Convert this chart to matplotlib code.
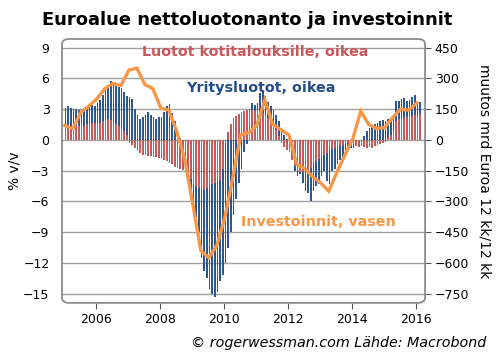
import numpy as np
import matplotlib
matplotlib.use("Agg")
import matplotlib.pyplot as plt
from matplotlib.patches import FancyBboxPatch

# monthly bars, Jan 2005 .. Feb 2016, mrd euro (right axis)
start_year = 2005
yritys = [155, 165, 155, 150, 150, 145, 150, 155, 160, 160, 170, 165,
          180, 195, 220, 245, 270, 285, 280, 265, 260, 255, 235, 215,
          210, 200, 150, 120, 100, 110, 120, 135, 120, 110, 100, 110,
          110, 135, 165, 175, 130, 90, 45, 10, -40, -110, -200, -275,
          -300, -375, -450, -575, -640, -675, -725, -750, -765, -740, -690, -660,
          -600, -525, -450, -365, -290, -210, -140, -60, -20, 150, 180, 170,
          180, 230, 235, 215, 185, 165, 145, 120, 90, 60, 25, 5,
          -50, -90, -150, -175, -165, -210, -250, -260, -300, -250, -225, -215,
          -175, -150, -200, -215, -150, -140, -120, -100, -85, -70, -50, -40,
          -40, -30, -20, -5, 20, 45, 60, 65, 75, 80, 90, 95,
          90, 100, 105, 110, 190, 190, 200, 205, 190, 195, 210, 220,
          180, 185]
kotitalous = [70, 70, 65, 65, 70, 70, 75, 70, 75, 75, 80, 80,
              75, 80, 90, 100, 102, 95, 85, 75, 68, 58, 45, 25,
              -15, -25, -40, -55, -65, -75, -75, -80, -80, -85, -85, -90,
              -95, -100, -105, -115, -120, -130, -135, -140, -145, -155, -165, -190,
              -215, -225, -235, -245, -245, -235, -225, -215, -210, -205, -195, -140,
              -15, 40, 75, 105, 115, 125, 135, 140, 145, 145, 145, 140,
              145, 140, 130, 120, 105, 90, 75, 50, 20, -15, -35, -50,
              -60, -100, -125, -145, -155, -155, -150, -145, -135, -120, -105, -95,
              -90, -75, -65, -55, -45, -40, -35, -30, -25, -20, -15, -15,
              -20, -30, -35, -30, -35, -40, -35, -40, -30, -25, -20, -15,
              -10, 15, 25, 50, 90, 100, 100, 105, 110, 115, 115, 120,
              115, 125]

# quarterly investments, % v/v (left axis), Q1 2005 .. Q1 2016
investoinnit = [1.4, 1.1, 2.7, 3.3, 4.0, 5.0, 5.5, 5.3, 6.8, 7.0,
                5.4, 5.0, 3.1, 2.9, 0.8, -1.9, -6.3, -10.8, -11.5, -10.3,
                -7.6, -3.7, 0.5, 0.7, 1.4, 3.9, 1.5, 1.0, 0.5, -2.4,
                -2.8, -3.6, -4.2, -5.0, -3.2, -1.5, 0.1, 2.8, 1.5, 1.1,
                1.2, 2.2, 3.0, 2.9, 3.6]

left_ticks = [9, 6, 3, 0, -3, -6, -9, -12, -15]
right_ticks = [450, 300, 150, 0, -150, -300, -450, -600, -750]
year_ticks = [2006, 2008, 2010, 2012, 2014, 2016]

BLUE = "#2c5794"
RED = "#c9585a"
ORANGE = "#f79646"
GRID = "#a0a0a0"

months = start_year + (np.arange(len(yritys)) + 0.5) / 12.0
quarters = start_year + 0.02 + np.arange(len(investoinnit)) * 0.25

fig = plt.figure(figsize=(4.96, 3.61), dpi=100)
ax = fig.add_axes([0.125, 0.161, 0.732, 0.731])
ax2 = ax.twinx()

# bars on the right axis
w = 0.62 / 12
ax2.bar(months, yritys, width=w, color=BLUE, linewidth=0, zorder=2)
ax2.bar(months, kotitalous, width=w, color=RED, linewidth=0, zorder=3)
ax2.set_ylim(-795, 492)
ax2.set_yticks(right_ticks)
ax2.grid(True, color=GRID, lw=1.0, zorder=0)
ax2.set_axisbelow(True)

# line on the left axis, drawn above the bars
ax.set_zorder(ax2.get_zorder() + 1)
ax.patch.set_visible(False)
ax.plot(quarters, investoinnit, color=ORANGE, lw=2.4, solid_joinstyle="miter", zorder=5)
ax.set_ylim(-15.9, 9.84)
ax.set_yticks(left_ticks)
ax.set_xlim(2004.93, 2016.28)
ax.set_xticks(year_ticks)
ax.set_xticklabels([str(y) for y in year_ticks])

# vertical grid lines on the bar axes
ax2.set_xticks(year_ticks)

for a in (ax, ax2):
    for s in a.spines.values():
        s.set_visible(False)
ax.tick_params(axis="x", direction="out", length=4, color="#555555", labelsize=9, pad=3)
ax.tick_params(axis="y", length=0, labelsize=9, pad=9)
ax2.tick_params(axis="y", direction="out", length=4, color="#555555", labelsize=9, pad=3)
ax2.tick_params(axis="x", length=0, labelbottom=False)

frame = FancyBboxPatch((0, 0), 1, 1, boxstyle="round,pad=0,rounding_size=0.02",
                       transform=ax.transAxes, fill=False, edgecolor="#8c8c8c",
                       lw=1.3, clip_on=False, zorder=10)
ax.add_patch(frame)

ax.set_ylabel("% v/v", fontsize=10, labelpad=1)
ax2.set_ylabel("muutos mrd Euroa 12 kk/12 kk", fontsize=10, rotation=270, labelpad=16)

ax.text(0.532, 0.951, "Luotot kotitalouksille, oikea", transform=ax.transAxes,
        color=RED, fontsize=10.3, fontweight="bold", ha="center", va="center", zorder=6)
ax.text(0.548, 0.814, "Yritysluotot, oikea", transform=ax.transAxes,
        color="#234d89", fontsize=10.3, fontweight="bold", ha="center", va="center", zorder=6)
ax.text(0.705, 0.307, "Investoinnit, vasen", transform=ax.transAxes,
        color=ORANGE, fontsize=10.3, fontweight="bold", ha="center", va="center", zorder=6)

fig.text(0.085, 0.945, "Euroalue nettoluotonanto ja investoinnit", fontsize=12.9,
         fontweight="bold", ha="left", va="center")
fig.text(0.98, 0.05, "\u00a9 rogerwessman.com L\u00e4hde: Macrobond", fontsize=10.3,
         style="italic", ha="right", va="center")

fig.savefig("out.png", dpi=100)
